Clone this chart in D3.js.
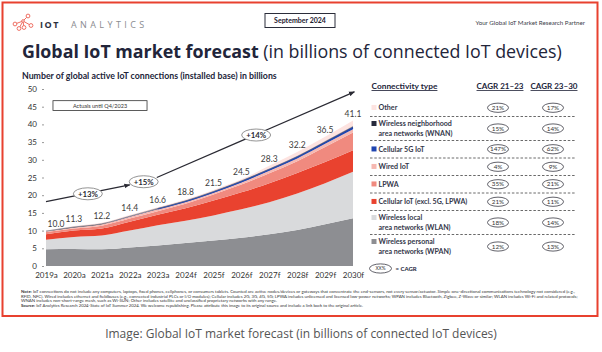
<!DOCTYPE html>
<html>
<head>
<meta charset="utf-8">
<script src="https://cdn.jsdelivr.net/npm/d3@7"></script>
<style>
  body { margin: 0; background: #fff; }
  svg { display: block; }
</style>
</head>
<body>
<div id="viz"></div>
<script>
// data (billions of connections, per layer)
let years = ["2019a","2020a","2021a","2022a","2023a","2024f","2025f","2026f","2027f","2028f","2029f","2030f"];
let totals = [10.0, 11.3, 12.2, 14.4, 16.6, 18.8, 21.5, 24.5, 28.3, 32.2, 36.5, 41.1];

let wpan     = [4.7, 4.8, 4.7, 5.2, 5.8, 6.5, 7.2, 8.0, 9.0, 10.2, 11.8, 13.5];
let wlan     = [2.7, 3.4, 3.9, 4.8, 5.7, 6.3, 7.1, 8.0, 9.0, 10.3, 11.6, 13.1];
let cellular = [1.6, 1.8, 2.0, 2.5, 3.0, 3.5, 4.2, 4.8, 5.4, 5.8, 6.0, 6.1];
let lpwa     = [0.6, 0.6, 0.8, 0.9, 1.0, 1.3, 1.7, 2.2, 2.8, 3.3, 4.2, 5.0];
let wired    = [0.2, 0.3, 0.4, 0.5, 0.5, 0.5, 0.5, 0.6, 0.7, 0.8, 0.9, 0.9];
let fiveG    = [0.0, 0.0, 0.02, 0.05, 0.1, 0.15, 0.2, 0.25, 0.3, 0.35, 0.4, 0.5];
let wnan     = [0.05, 0.1, 0.1, 0.1, 0.15, 0.15, 0.15, 0.2, 0.2, 0.2, 0.25, 0.3];
let other    = [0.15, 0.3, 0.28, 0.35, 0.35, 0.4, 0.45, 0.45, 0.9, 1.25, 1.35, 1.7];

let yTicks = [0, 5, 10, 15, 20, 25, 30, 35, 40, 45, 50];

// growth arrows: [year index, value]
let arrow1 = [[0, 18.2], [3, 22.9]];
let arrow2 = [[3.97, 25.0], [11.05, 49.2]];
let growthLabels = ["+13%", "+15%", "+14%"];
let growthPos = [[1.5, 20.4], [3.5, 23.8], [7.53, 37.0]];

// legend table
let legendNames = [["Other"], ["Wireless neighborhood", "area networks (WNAN)"], ["Cellular 5G IoT"], ["Wired IoT"],
  ["LPWA"], ["Cellular IoT (excl. 5G, LPWA)"], ["Wireless local", "area networks (WLAN)"], ["Wireless personal", "area networks (WPAN)"]];
let cagr2123 = ["21%", "15%", "147%", "4%", "35%", "21%", "18%", "12%"];
let cagr2330 = ["17%", "14%", "62%", "9%", "21%", "11%", "14%", "13%"];

let keys = ["wpan","wlan","cellular","lpwa","wired","fiveG","wnan","other"];
let colors = {
  wpan: "#8d8e92", wlan: "#d9dadc", cellular: "#e9422f", lpwa: "#f08a7f",
  wired: "#f6b8b1", fiveG: "#1f45b0", wnan: "#262a3c", other: "#fde3e0"
};
let legendKeys = ["other","wnan","fiveG","wired","lpwa","cellular","wlan","wpan"];

let w = 602;
let h = 352;
let navy = "#22253a";

let viz = d3.select("#viz")
  .append("svg")
    .attr("width", w)
    .attr("height", h)
;

// red frame
viz.append("rect")
  .attr("x", 2.5).attr("y", 2.5)
  .attr("width", 595).attr("height", 313.5)
  .attr("fill", "#fff")
  .attr("stroke", "#e8412f")
  .attr("stroke-width", 2);

// fit helper: shrinks/grows font so text spans a target width
function fit(sel, target){
  let fs = parseFloat(sel.attr("font-size"));
  let len = sel.node().getComputedTextLength();
  if(len > 0) sel.attr("font-size", fs * target / len);
}

// ---------- header ----------
let logo = viz.append("g").attr("stroke", "#ef6f63").attr("fill", "none").attr("stroke-width", 1);
let nodes = [[15, 24], [19, 28.5], [24, 27.5], [23, 21], [28, 16], [31, 25.5]];
let links = [[0,3],[1,3],[2,3],[3,4],[3,5]];
links.forEach(function(l){
  logo.append("line")
    .attr("x1", nodes[l[0]][0]).attr("y1", nodes[l[0]][1])
    .attr("x2", nodes[l[1]][0]).attr("y2", nodes[l[1]][1]);
});
nodes.forEach(function(n, i){
  logo.append("circle").attr("cx", n[0]).attr("cy", n[1]).attr("r", i == 3 ? 1.3 : 1.9).attr("fill", "#fff");
});

viz.append("text").text("IOT")
  .attr("x", 40).attr("y", 27.5)
  .attr("font-family", "Open Sans").attr("font-weight", 700).attr("font-size", 9)
  .attr("letter-spacing", 1.6).attr("fill", "#2c2f3e");
viz.append("text").text("ANALYTICS")
  .attr("x", 71).attr("y", 27.5)
  .attr("font-family", "Open Sans").attr("font-weight", 400).attr("font-size", 9)
  .attr("letter-spacing", 3.4).attr("fill", "#8a8b90");

viz.append("rect")
  .attr("x", 265).attr("y", 13.5).attr("width", 70).attr("height", 14)
  .attr("fill", "#fff").attr("stroke", "#2b2d3a").attr("stroke-width", 1);
viz.append("text").text("September 2024")
  .attr("x", 300).attr("y", 23.3).attr("text-anchor", "middle")
  .attr("font-family", "Lato").attr("font-weight", 700).attr("font-size", 7)
  .attr("fill", "#1e2030");

viz.append("text").text("Your Global IoT Market Research Partner")
  .attr("x", 585).attr("y", 25).attr("text-anchor", "end")
  .attr("font-family", "Lato").attr("font-size", 6.2).attr("fill", "#3a3c48");

// title
let title = viz.append("text")
  .attr("x", 22).attr("y", 57.5)
  .attr("font-family", "Open Sans").attr("font-size", 17).attr("fill", navy);
title.append("tspan").text("Global IoT market forecast").attr("font-weight", 700);
title.append("tspan").text(" (in billions of connected IoT devices)").attr("font-weight", 400);
fit(title, 540);

let sub = viz.append("text").text("Number of global active IoT connections (installed base) in billions")
  .attr("x", 22).attr("y", 79)
  .attr("font-family", "Lato").attr("font-weight", 700).attr("font-size", 7.5).attr("fill", navy);
fit(sub, 255);

// ---------- chart ----------
let xScale = d3.scalePoint().domain(years).range([46, 353]);
let xIdx = d3.scaleLinear().domain([0, years.length - 1]).range([46, 353]);
let yScale = d3.scaleLinear().domain([0, 50]).range([266, 89]);

let series = {wpan: wpan, wlan: wlan, cellular: cellular, lpwa: lpwa, wired: wired, fiveG: fiveG, wnan: wnan, other: other};
let table = years.map(function(yr, i){
  let row = {year: yr};
  keys.forEach(function(k){ row[k] = series[k][i]; });
  return row;
});

let stacked = d3.stack().keys(keys)(table);

let areaMaker = d3.area()
  .x(function(d){ return xScale(d.data.year); })
  .y0(function(d){ return yScale(d[0]); })
  .y1(function(d){ return yScale(d[1]); })
  .curve(d3.curveMonotoneX);

viz.selectAll(".layer").data(stacked).enter()
  .append("path")
    .attr("class", "layer")
    .attr("d", areaMaker)
    .attr("fill", function(d){ return colors[d.key]; });

// 5G thin line emphasised on top of its band
let topLine = d3.line()
  .x(function(d){ return xScale(d.data.year); })
  .y(function(d){ return yScale(d[1]); })
  .curve(d3.curveMonotoneX);
viz.append("path")
  .datum(stacked[5].filter(function(d, i){ return i >= 4; }))
  .attr("d", topLine)
  .attr("fill", "none").attr("stroke", colors.fiveG).attr("stroke-width", 1.3);
viz.append("path")
  .datum(stacked[6])
  .attr("d", topLine)
  .attr("fill", "none").attr("stroke", "#6d7080").attr("stroke-width", 0.7);

// y axis
let yAxis = d3.axisLeft(yScale).tickValues(yTicks).tickSize(2).tickPadding(5);
let yG = viz.append("g").attr("transform", "translate(44,0)").call(yAxis);
yG.select(".domain").remove();
yG.selectAll(".tick line").attr("stroke", "#999");
yG.selectAll("text").attr("font-family", "Lato").attr("font-size", 8).attr("fill", "#333");

// x axis
let xAxis = d3.axisBottom(xScale).tickSize(0).tickPadding(6);
let xG = viz.append("g").attr("transform", "translate(0,266)").call(xAxis);
xG.select(".domain").remove();
xG.selectAll("text").attr("font-family", "Lato").attr("font-size", 8).attr("fill", "#333");

// totals
viz.selectAll(".total").data(totals).enter()
  .append("text")
    .attr("class", "total")
    .text(function(d){ return d.toFixed(1); })
    .attr("x", function(d, i){ return xScale(years[i]) + (i == 0 ? 10 : 0); })
    .attr("y", function(d){ return yScale(d) - 4; })
    .attr("text-anchor", "middle")
    .attr("font-family", "Lato").attr("font-size", 8.5).attr("fill", "#404040");

// actuals box
viz.append("rect")
  .attr("x", xIdx(0.25)).attr("y", yScale(46.7))
  .attr("width", xIdx(3.62) - xIdx(0.25)).attr("height", yScale(43.9) - yScale(46.7))
  .attr("fill", "#fff").attr("stroke", "#333").attr("stroke-width", 0.8);
viz.append("text").text("Actuals until Q4/2023")
  .attr("x", (xIdx(0.25) + xIdx(3.62)) / 2).attr("y", yScale(45.3) + 2)
  .attr("text-anchor", "middle")
  .attr("font-family", "Lato").attr("font-size", 5.5).attr("fill", "#333");

// growth arrows
viz.append("defs").append("marker")
  .attr("id", "arrowhead")
  .attr("viewBox", "0 0 10 10").attr("refX", 9).attr("refY", 5)
  .attr("markerWidth", 5).attr("markerHeight", 5).attr("orient", "auto")
  .append("path").attr("d", "M0,1 L10,5 L0,9 Z").attr("fill", "#2a2a33");

let arrowLine = d3.line()
  .x(function(d){ return xIdx(d[0]); })
  .y(function(d){ return yScale(d[1]); });
[arrow1, arrow2].forEach(function(a){
  viz.append("path").attr("d", arrowLine(a))
    .attr("fill", "none").attr("stroke", "#2a2a33").attr("stroke-width", 1.2)
    .attr("marker-end", "url(#arrowhead)");
});

growthLabels.forEach(function(lab, i){
  let cx = xIdx(growthPos[i][0]);
  let cy = yScale(growthPos[i][1]);
  viz.append("ellipse").attr("cx", cx).attr("cy", cy).attr("rx", 14.5).attr("ry", 6)
    .attr("fill", "#fff").attr("stroke", "#888").attr("stroke-width", 0.9);
  viz.append("text").text(lab)
    .attr("x", cx).attr("y", cy + 2.8).attr("text-anchor", "middle")
    .attr("font-family", "Lato").attr("font-weight", 700).attr("font-size", 7.8).attr("fill", "#2a2a33");
});

// ---------- legend table ----------
let hdrY = 89;
function header(txt, x, anchor, width){
  let t = viz.append("text").text(txt)
    .attr("x", x).attr("y", hdrY).attr("text-anchor", anchor)
    .attr("font-family", "Lato").attr("font-weight", 700).attr("font-size", 7.8).attr("fill", navy)
    .attr("text-decoration", "underline");
  fit(t, width);
  return t;
}
header("Connectivity type", 371.5, "start", 66);
header("CAGR 21\u201323", 500, "middle", 47);
header("CAGR 23\u201330", 554, "middle", 47);

let rowY = 99;
legendKeys.forEach(function(k, i){
  let lines = legendNames[i];
  let rh = lines.length == 1 ? 17.5 : 24;
  let cy = rowY + rh / 2;
  let firstY = lines.length == 1 ? cy : cy - 4.7;

  viz.append("rect")
    .attr("x", 371.5).attr("y", firstY - 2.8).attr("width", 5).attr("height", 5)
    .attr("fill", colors[k]);
  lines.forEach(function(s, j){
    viz.append("text").text(s)
      .attr("x", 378.5).attr("y", firstY + 2.4 + j * 9.4)
      .attr("font-family", "Lato").attr("font-weight", 700).attr("font-size", 7.1).attr("fill", "#34374a");
  });

  [[498, cagr2123[i]], [553, cagr2330[i]]].forEach(function(c){
    viz.append("ellipse").attr("cx", c[0]).attr("cy", cy).attr("rx", 10.5).attr("ry", 4.6)
      .attr("fill", "#fff").attr("stroke", "#3a3a44").attr("stroke-width", 0.8);
    viz.append("text").text(c[1])
      .attr("x", c[0]).attr("y", cy + 2.2).attr("text-anchor", "middle")
      .attr("font-family", "Lato").attr("font-size", 6.3).attr("fill", "#333");
  });

  rowY += rh;
  if(i < legendKeys.length - 1){
    viz.append("line")
      .attr("x1", 370).attr("x2", 575).attr("y1", rowY).attr("y2", rowY)
      .attr("stroke", "#444").attr("stroke-width", 0.8).attr("stroke-dasharray", "2.5,1.8");
  }
});

viz.append("ellipse").attr("cx", 380.5).attr("cy", 268.5).attr("rx", 11).attr("ry", 4.6)
  .attr("fill", "#fff").attr("stroke", "#3a3a44").attr("stroke-width", 0.8);
viz.append("text").text("XX%")
  .attr("x", 380.5).attr("y", 270.4).attr("text-anchor", "middle")
  .attr("font-family", "Lato").attr("font-size", 4.8).attr("fill", "#333");
viz.append("text").text("= CAGR")
  .attr("x", 395.5).attr("y", 270.5)
  .attr("font-family", "Lato").attr("font-weight", 700).attr("font-size", 6).attr("fill", navy);

// ---------- notes ----------
let notes = [
  [["Note: ", "IoT connections do not include any computers, laptops, fixed phones, cellphones, or consumers tablets. Counted are active nodes/devices or gateways that concentrate the end-sensors, not every sensor/actuator. Simple one-directional communications technology not considered (e.g.,"], 556],
  [["", "RFID, NFC). Wired includes ethernet and fieldbuses (e.g., connected industrial PLCs or I/O modules); Cellular includes 2G, 3G, 4G, 5G; LPWA includes unlicensed and licensed low-power networks; WPAN includes Bluetooth, Zigbee, Z-Wave or similar; WLAN includes Wi-Fi and related protocols;"], 556],
  [["", "WNAN includes non-short-range mesh, such as Wi-SUN; Other includes satellite and unclassified proprietary networks with any range."], 256],
  [["Source: ", "IoT Analytics Research 2024-State of IoT Summer 2024. We welcome republishing. Please attribute this image to its original source and include a link back to the original article."], 342]
];
notes.forEach(function(n, i){
  let t = viz.append("text")
    .attr("x", 21).attr("y", 293 + i * 4.6)
    .attr("font-family", "Lato").attr("font-size", 3.6).attr("fill", "#333");
  if(n[0][0]) t.append("tspan").text(n[0][0]).attr("font-weight", 700);
  t.append("tspan").text(n[0][1]);
  fit(t, n[1]);
});

// caption under the frame
let cap = viz.append("text").text("Image: Global IoT market forecast (in billions of connected IoT devices)")
  .attr("x", 301).attr("y", 338).attr("text-anchor", "middle")
  .attr("font-family", "Open Sans").attr("font-size", 10.5).attr("fill", "#555");
fit(cap, 392);
</script>
</body>
</html>
